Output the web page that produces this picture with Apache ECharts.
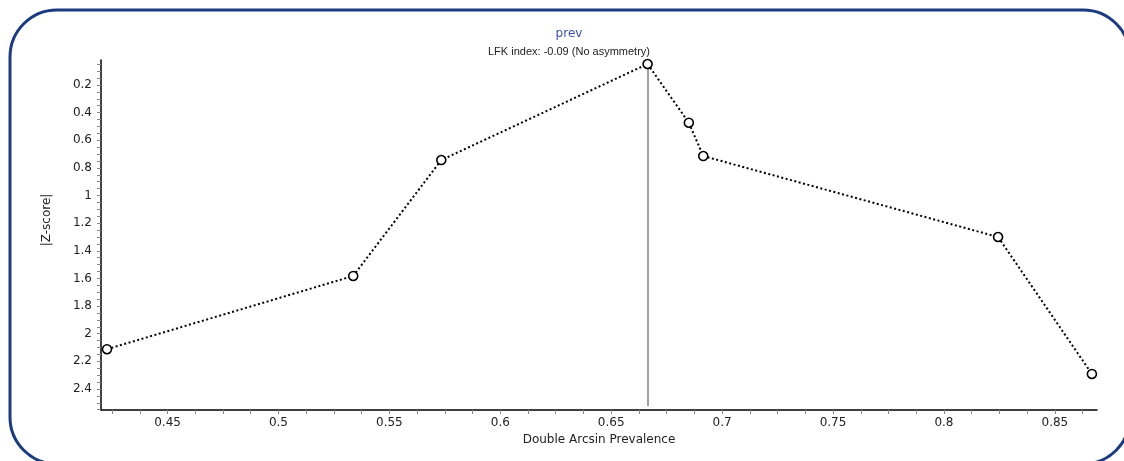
<!DOCTYPE html>
<html>
<head>
<meta charset="utf-8">
<script src="https://cdn.jsdelivr.net/npm/echarts@6/dist/echarts.min.js"></script>
<style>
html,body{margin:0;padding:0;background:#fff;}
#chart{width:1124px;height:461px;}
</style>
</head>
<body>
<div id="chart"></div>
<script>
// Data
const xValues = [0.4227, 0.5337, 0.5734, 0.6664, 0.6850, 0.6915, 0.8244, 0.8667];
const zScores = [2.112, 1.582, 0.743, 0.048, 0.473, 0.714, 1.300, 2.291];
const xTickLabels = [0.45, 0.5, 0.55, 0.6, 0.65, 0.7, 0.75, 0.8, 0.85];
const yTickLabels = [0.2, 0.4, 0.6, 0.8, 1, 1.2, 1.4, 1.6, 1.8, 2, 2.2, 2.4];
const titleText = 'prev';
const subText = 'LFK index: -0.09 (No asymmetry)';
const xName = 'Double Arcsin Prevalence';
const yName = '|Z-score|';
const xMin = 0.42, xMax = 0.869, yMin = 0.019, yMax = 2.552;
const refLineBottom = 2.523;

const xMinor = [];
for (let i = 34; i <= 69; i++) { const v = +(i * 0.0125).toFixed(4); if (v > xMin && v < xMax) xMinor.push(v); }
const yMinor = [];
for (let i = 1; i <= 51; i++) { const v = +(i * 0.05).toFixed(2); if (v > yMin && v < yMax) yMinor.push(v); }

const pts = xValues.map((x, i) => [x, zScores[i]]);
let peakIdx = 0;
zScores.forEach((z, i) => { if (z < zScores[peakIdx]) peakIdx = i; });

const font = 'DejaVu Sans';
const chart = echarts.init(document.getElementById('chart'), null, {renderer: 'canvas'});
chart.setOption({
  backgroundColor: '#ffffff',
  animation: false,
  title: {
    text: titleText,
    subtext: subText,
    left: 564,
    top: 22,
    textAlign: 'center',
    itemGap: 4,
    textStyle: {fontFamily: font, fontSize: 12, fontWeight: 'normal', color: '#3b4fa8', lineHeight: 14},
    subtextStyle: {fontFamily: 'Liberation Sans', fontSize: 11, color: '#222', lineHeight: 13}
  },
  graphic: [
    {type: 'rect', shape: {x: 10, y: 10, width: 1120, height: 454, r: 47},
     style: {fill: 'none', stroke: '#1b3a80', lineWidth: 3}, z: 100},
    {type: 'text', x: 47, y: 220, rotation: Math.PI / 2,
     style: {text: yName, fontFamily: font, fontSize: 12, fill: '#222', align: 'center', verticalAlign: 'middle'}}
  ],
  grid: {left: 101, right: 27, top: 60, bottom: 51},
  xAxis: {
    type: 'value', min: xMin, max: xMax,
    name: xName, nameLocation: 'middle', nameGap: 22,
    nameTextStyle: {fontFamily: font, fontSize: 12, color: '#222'},
    axisLine: {lineStyle: {color: '#000', width: 1.5}},
    axisTick: {show: true, length: 4, customValues: xMinor, lineStyle: {color: '#888'}},
    axisLabel: {customValues: xTickLabels, fontFamily: font, fontSize: 12, color: '#222', margin: 7},
    splitLine: {show: false}
  },
  yAxis: {
    type: 'value', min: yMin, max: yMax, inverse: true,
    axisLine: {show: true, lineStyle: {color: '#000', width: 1.5}},
    axisTick: {show: true, length: 4, customValues: yMinor, lineStyle: {color: '#888'}},
    axisLabel: {customValues: yTickLabels, fontFamily: font, fontSize: 12, color: '#222', margin: 9},
    splitLine: {show: false}
  },
  series: [{
    type: 'line',
    data: pts,
    symbol: 'circle',
    symbolSize: 9,
    itemStyle: {color: '#fff', borderColor: '#000', borderWidth: 1.6},
    lineStyle: {color: '#000', width: 2, type: [2, 2.5]},
    z: 3,
    markLine: {
      silent: true,
      symbol: ['none', 'none'],
      label: {show: false},
      lineStyle: {color: '#808080', width: 1.5, type: 'solid'},
      z: 1,
      data: [[{coord: [xValues[peakIdx], zScores[peakIdx]]}, {coord: [xValues[peakIdx], refLineBottom]}]]
    }
  }]
});
</script>
</body>
</html>
